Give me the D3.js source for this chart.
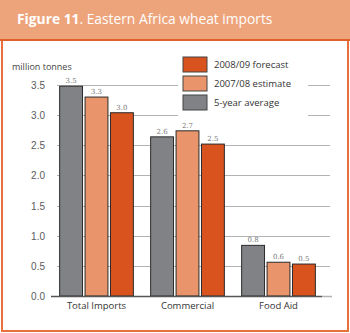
<!DOCTYPE html>
<html>
<head>
  <meta charset="utf-8">
  <title>eastern-africa-wheat</title>
  <style>
    * { padding: 0; margin: 0; }
    body { width: 350px; height: 333px; background: #fff; overflow: hidden; }
    svg { display: block; font-family: "Open Sans", "DejaVu Sans", sans-serif; }
  </style>
</head>
<body>
  <svg id="svg"></svg>
  <script src="https://cdnjs.cloudflare.com/ajax/libs/d3/7.8.5/d3.min.js"></script>
  <script>
    const categories = ['Total Imports', 'Commercial', 'Food Aid'];
    const seriesNames = ['5-year average', '2007/08 estimate', '2008/09 forecast'];
    const fiveYearAvg = [3.48, 2.64, 0.84];
    const estimate0708 = [3.30, 2.74, 0.56];
    const forecast0809 = [3.04, 2.52, 0.53];
    const yTicks = [0, 0.5, 1.0, 1.5, 2.0, 2.5, 3.0, 3.5];

    const colors = ['#818285', '#e9946a', '#d9531f'];
    const series = [fiveYearAvg, estimate0708, forecast0809];

    const W = 350, H = 333;
    const svg = d3.select('#svg').attr('width', W).attr('height', H);

    // title band
    svg.append('rect').attr('x', 0).attr('y', 0).attr('width', W).attr('height', 39).attr('fill', '#eea47b');
    svg.append('rect').attr('x', 0).attr('y', 39).attr('width', W).attr('height', 2).attr('fill', '#e0602a');
    const title = svg.append('text').attr('x', 17).attr('y', 24).attr('fill', '#fff').style('font-size', '13.8px');
    title.append('tspan').attr('font-weight', 'bold').text('Figure 11');
    title.append('tspan').text('. Eastern Africa wheat imports');

    // frame
    svg.append('path')
      .attr('d', `M2,41 V331 H348 V41`)
      .attr('fill', 'none').attr('stroke', '#e8703c').attr('stroke-width', 2);

    const y = d3.scaleLinear().domain([0, 3.5]).range([296, 85]);
    const x0 = d3.scaleBand().domain(categories).range([51, 324]).paddingInner(0.19).paddingOuter(0.095);
    const x1 = d3.scaleBand().domain(d3.range(3)).range([0, x0.bandwidth()]).paddingInner(0.1);

    // gridlines
    svg.append('g').selectAll('line').data(yTicks.slice(1)).enter().append('line')
      .attr('x1', 57).attr('x2', 330)
      .attr('y1', d => Math.round(y(d)) + 0.5).attr('y2', d => Math.round(y(d)) + 0.5)
      .attr('stroke', '#b3b3b3').attr('stroke-width', 1.2);

    // y axis
    const yAxis = d3.axisLeft(y).tickValues(yTicks).tickFormat(d3.format('.1f')).tickSize(0).tickPadding(0);
    const yg = svg.append('g').attr('transform', 'translate(45,0)').call(yAxis);
    yg.select('.domain').remove();
    yg.selectAll('text').attr('fill', '#5a5a5a').style('font-size', '10px').attr('dy', '0.35em');

    svg.append('text').attr('x', 12).attr('y', 70).attr('fill', '#444').style('font-size', '9px').text('million tonnes');

    // legend background covers gridlines
    svg.append('rect').attr('x', 178).attr('y', 50).attr('width', 130).attr('height', 66).attr('fill', '#fff');

    // bars
    const groups = svg.append('g').selectAll('g').data(categories).enter().append('g')
      .attr('transform', d => `translate(${x0(d)},0)`);
    groups.selectAll('rect').data((d, i) => series.map((s, k) => ({ k, v: s[i] }))).enter().append('rect')
      .attr('x', d => x1(d.k)).attr('width', x1.bandwidth())
      .attr('y', d => y(d.v)).attr('height', d => y(0) - y(d.v))
      .attr('fill', d => colors[d.k]).attr('stroke', '#2a2a2a').attr('stroke-width', 1);
    groups.selectAll('text').data((d, i) => series.map((s, k) => ({ k, v: s[i] }))).enter().append('text')
      .attr('x', d => x1(d.k) + x1.bandwidth() / 2).attr('y', d => y(d.v) - 3)
      .attr('text-anchor', 'middle').attr('fill', '#777').style('font-size', '7px')
      .attr('font-family', '"DejaVu Serif", serif')
      .text(d => d3.format('.1f')(d.v));

    // baseline
    svg.append('line').attr('x1', 322).attr('x2', 332).attr('y1', 296.5).attr('y2', 296.5).attr('stroke', '#b3b3b3').attr('stroke-width', 1.5);
    svg.append('line').attr('x1', 51).attr('x2', 322).attr('y1', 296.5).attr('y2', 296.5).attr('stroke', '#555').attr('stroke-width', 1.5);

    // x labels
    svg.append('g').selectAll('text').data(categories).enter().append('text')
      .attr('x', d => x0(d) + x0.bandwidth() / 2).attr('y', 309)
      .attr('text-anchor', 'middle').attr('fill', '#333').style('font-size', '9.5px')
      .text(d => d);

    // legend
    const legendOrder = [2, 1, 0];
    const lg = svg.append('g').selectAll('g').data(legendOrder).enter().append('g')
      .attr('transform', (d, i) => `translate(183,${57 + i * 19})`);
    lg.append('rect').attr('width', 24).attr('height', 15)
      .attr('fill', d => colors[d]).attr('stroke', '#444').attr('stroke-width', 1);
    lg.append('text').attr('x', 31).attr('y', 11).attr('fill', '#333').style('font-size', '9.5px')
      .text(d => seriesNames[d]);
  </script>
</body>
</html>
